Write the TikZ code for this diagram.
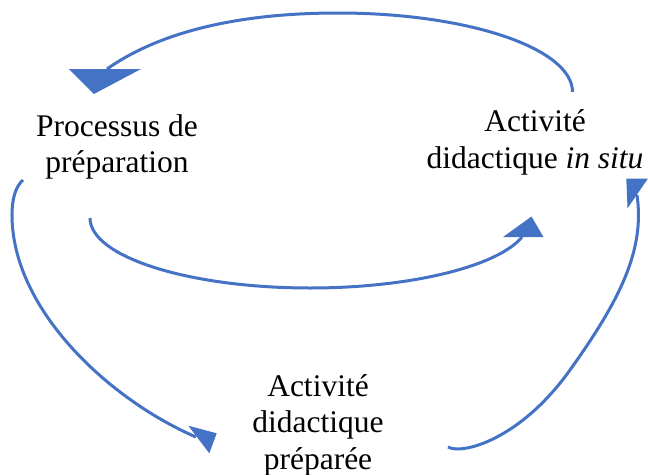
\documentclass[tikz,border=0pt]{standalone}
\usepackage{fontspec}
\setmainfont{Liberation Serif}
\definecolor{arrowblue}{HTML}{4472C4}
\begin{document}
\begin{tikzpicture}[x=1pt,y=-1pt,
  conn/.style={draw=arrowblue, line width=3pt},
  headfill/.style={fill=arrowblue},
  lbl/.style={align=center, font=\fontsize{31.5}{36.5}\selectfont, inner sep=0pt, anchor=base}]
\useasboundingbox (0,0) rectangle (648,474);
% labels (anchor = baseline of last line)
\node[lbl] (proc) at (117,172.5) {Processus de\\préparation};
\node[lbl] (insitu) at (535,168.2) {Activité\\didactique \textit{in situ}};
\node[lbl] (prep) at (318,469) {Activité\\didactique\\préparée};
% connector end points
\coordinate (aS) at (572.5,92);
\coordinate (aT) at (338,13);
\coordinate (aE) at (107,69);
\coordinate (bS) at (90,218);
\coordinate (bB) at (310,288);
\coordinate (bE) at (522,237);
\coordinate (cS) at (23,180);
\coordinate (cL) at (12,215);
\coordinate (cE) at (196,437);
\coordinate (dS) at (448,447);
\coordinate (dM) at (570,370);
\coordinate (dE) at (637,195);
% connectors
\draw[conn] (aS) .. controls (572.5,48.4) and (467.8,13) .. (aT)
               .. controls (208,13) and (141,45) .. (aE);
\draw[conn] (bS) .. controls (90,256.7) and (188.5,288) .. (bB)
               .. controls (410.4,288) and (497.8,266.4) .. (bE);
\draw[conn] (cS) .. controls (15,187) and (12,200) .. (cL)
               .. controls (12,310) and (110,400) .. (cE);
\draw[conn] (dS) .. controls (462,455) and (520,440) .. (dM)
               .. controls (620,300) and (645,250) .. (dE);
% arrow heads
\fill[headfill] (69,69) -- (141,69) -- (94,94) -- cycle;
\fill[headfill] (503,237) -- (543.5,237) -- (531.5,216.5) -- cycle;
\fill[headfill] (188.3,425.7) -- (216.7,433.3) -- (209.3,453.3) -- cycle;
\fill[headfill] (626.3,178.5) -- (648,178.5) -- (627.5,208.3) -- cycle;
\end{tikzpicture}
\end{document}
